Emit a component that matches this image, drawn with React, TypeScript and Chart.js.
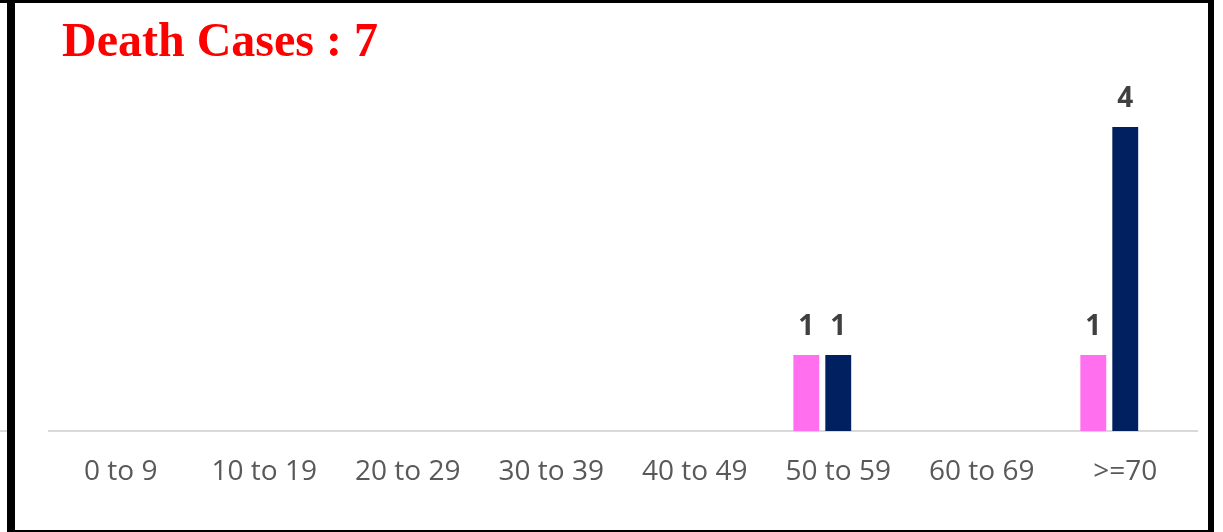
import React, { useEffect, useRef } from "react";
import { Chart, registerables } from "chart.js";

Chart.register(...registerables);

const categories = ["0 to 9", "10 to 19", "20 to 29", "30 to 39", "40 to 49", "50 to 59", "60 to 69", ">=70"];
const femaleDeaths: (number | null)[] = [null, null, null, null, null, 1, null, 1];
const maleDeaths: (number | null)[] = [null, null, null, null, null, 1, null, 4];
const otherDeaths: (number | null)[] = [null, null, null, null, null, null, null, null];
const titleText = "Death Cases : 7";

const valueLabels = {
  id: "valueLabels",
  afterDatasetsDraw(chart: any) {
    const ctx = chart.ctx;
    ctx.save();
    ctx.font = "bold 28px 'Open Sans'";
    ctx.fillStyle = "#404040";
    ctx.textAlign = "center";
    ctx.textBaseline = "alphabetic";
    chart.data.datasets.forEach((ds: any, di: number) => {
      const meta = chart.getDatasetMeta(di);
      meta.data.forEach((el: any, i: number) => {
        const v = ds.data[i];
        if (v === null || v === undefined || v === 0) return;
        ctx.fillText(String(v), el.x, el.y - 20);
      });
    });
    ctx.restore();
  },
};

export default function App() {
  const ref = useRef<HTMLCanvasElement>(null);
  useEffect(() => {
    if (!ref.current) return;
    const chart = new Chart(ref.current, {
      type: "bar",
      data: {
        labels: categories,
        datasets: [
          { label: "Female", data: femaleDeaths, backgroundColor: "#FF6FEE", categoryPercentage: 0.668, barPercentage: 0.81 },
          { label: "Male", data: maleDeaths, backgroundColor: "#00205F", categoryPercentage: 0.668, barPercentage: 0.81 },
          { label: "Other", data: otherDeaths, backgroundColor: "#A5A5A5", categoryPercentage: 0.668, barPercentage: 0.81 },
        ],
      },
      options: {
        responsive: false,
        animation: false,
        layout: { padding: { left: 49, right: 26, top: 51, bottom: 0 } },
        plugins: { legend: { display: false }, tooltip: { enabled: false }, title: { display: false } },
        scales: {
          x: {
            grid: { display: true, drawOnChartArea: false, drawTicks: false },
            border: { display: true, color: "#D9D9D9", width: 2 },
            ticks: { color: "#595959", font: { family: "'Open Sans'", size: 28 }, padding: 24 },
            afterFit: (scale: any) => {
              scale.height = 101;
            },
          },
          y: { display: false, min: 0, max: 5 },
        },
      },
      plugins: [valueLabels],
    });
    return () => chart.destroy();
  }, []);

  return (
    <div>
      <canvas ref={ref} width={1223} height={532} style={{ position: "fixed", left: 0, top: 0, width: 1223, height: 532 }} />
      <div
        style={{
          position: "fixed",
          left: 62,
          top: 16,
          fontFamily: "'Liberation Serif', 'Times New Roman', serif",
          fontWeight: "bold",
          fontSize: 48,
          lineHeight: "48px",
          color: "#FF0000",
          whiteSpace: "nowrap",
        }}
      >
        {titleText}
      </div>
      <div style={{ position: "fixed", left: 0, top: 0, width: 1214, height: 3, background: "#000" }} />
      <div style={{ position: "fixed", left: 7, top: 0, width: 8, height: 532, background: "#000" }} />
      <div style={{ position: "fixed", left: 1208, top: 0, width: 6, height: 532, background: "#000" }} />
      <div style={{ position: "fixed", left: 7, top: 530, width: 1207, height: 2, background: "#000" }} />
      <div style={{ position: "fixed", left: 0, top: 430, width: 7, height: 2, background: "#D9D9D9" }} />
    </div>
  );
}
